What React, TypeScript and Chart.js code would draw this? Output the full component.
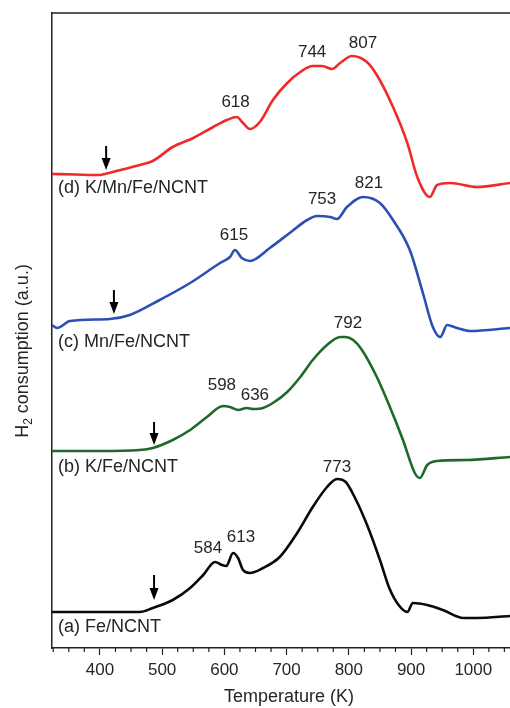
import React, { useEffect, useRef } from "react";
import { Chart, registerables } from "chart.js";

Chart.register(...registerables);

// Temperature (K) and H2 consumption (a.u., offset-stacked) for each sample
const tempD = [323, 360, 400, 408, 440, 464, 485, 517, 550, 582, 604, 620, 630, 641, 657, 678, 701, 722, 742, 757, 773, 786, 805, 829, 845, 871, 894, 910, 930, 942, 963, 1006, 1059];
const valD = [474, 473.5, 473, 474, 479, 483, 487, 501, 510, 521, 528, 531, 525, 519, 526, 548, 565, 576, 582, 582, 579, 585, 592, 586, 573, 541, 505, 471, 451, 463, 465, 461, 465];

const tempC = [323, 331, 352, 416, 448, 496, 545, 593, 609, 617, 628, 641, 673, 705, 733, 749, 770, 781, 797, 823, 850, 871, 898, 919, 935, 947, 958, 974, 995, 1059];
const valC = [323, 320, 327, 329, 333, 348, 365, 385, 391, 398, 390, 387, 400, 415, 428, 432, 431, 429, 441, 451, 445, 428, 398, 355, 321, 311, 323, 320, 317, 320];

const tempB = [323, 400, 464, 485, 517, 545, 572, 598, 609, 622, 636, 646, 662, 678, 701, 722, 742, 765, 786, 794, 807, 820, 845, 866, 887, 906, 914, 926, 942, 990, 1059];
const valB = [197, 197, 198, 200, 208, 218, 231, 242, 241, 238, 240, 239, 240, 245, 256, 271, 288, 303, 311, 311, 308, 299, 271, 241, 208, 175, 170, 183, 187, 188, 191];

const tempA = [323, 400, 464, 485, 517, 545, 566, 585, 596, 603, 614, 622, 630, 641, 662, 689, 717, 742, 765, 781, 795, 810, 830, 850, 865, 880, 894, 903, 926, 951, 984, 1006, 1059];
const valA = [36, 36, 36, 40, 48, 60, 73, 86, 83, 82, 95, 90, 78, 75, 80, 91, 115, 141, 161, 169, 166, 150, 122, 88, 60, 43, 36, 45, 43, 38, 30, 30, 32];

const seriesNames = ["(d) K/Mn/Fe/NCNT", "(c) Mn/Fe/NCNT", "(b) K/Fe/NCNT", "(a) Fe/NCNT"];

// Peak labels: text, temperature position, value position
const peakText = ["618", "744", "807", "615", "753", "821", "598", "636", "792", "584", "613", "773"];
const peakT = [618, 741, 822.8, 615.4, 757, 832.5, 596, 649, 798.7, 573.6, 626.7, 781];
const peakV = [546, 596, 605, 413, 449, 465, 263, 253, 325, 100, 111, 181];

// Sample label anchors
const nameT = [332.6, 332.6, 332.6, 332.6];
const nameV = [460, 306, 181, 21];

// Onset arrows
const arrowT = [410, 422.5, 487, 487];
const arrowTop = [502, 358, 226, 73];
const arrowTip = [478, 334, 203, 48];

const xMin = 323;
const xMax = 1059;
const yMin = 0;
const yMax = 635;

const FONT = '"Liberation Sans", Arial, Helvetica, sans-serif';
const TEXT = "#262626";

function toXY(t: number[], v: number[]) {
  return t.map((x, i) => ({ x, y: v[i] }));
}

export default function App() {
  const ref = useRef<HTMLCanvasElement | null>(null);

  useEffect(() => {
    if (!ref.current) return;

    const annot = {
      id: "annot",
      afterDraw(chart: any) {
        const ctx = chart.ctx as CanvasRenderingContext2D;
        const xs = chart.scales.x;
        const ys = chart.scales.y;
        const area = chart.chartArea;
        ctx.save();
        // top frame line
        ctx.strokeStyle = "#222";
        ctx.lineWidth = 1.5;
        ctx.beginPath();
        ctx.moveTo(area.left, area.top);
        ctx.lineTo(area.right, area.top);
        ctx.stroke();
        // minor ticks
        ctx.lineWidth = 1.2;
        for (let t = 325; t <= xMax; t += 25) {
          if (t % 100 === 0) continue;
          const px = xs.getPixelForValue(t);
          ctx.beginPath();
          ctx.moveTo(px, area.bottom);
          ctx.lineTo(px, area.bottom + 4);
          ctx.stroke();
        }
        // peak labels
        ctx.fillStyle = TEXT;
        ctx.font = `17px ${FONT}`;
        ctx.textAlign = "center";
        ctx.textBaseline = "middle";
        peakText.forEach((s, i) => {
          ctx.fillText(s, xs.getPixelForValue(peakT[i]), ys.getPixelForValue(peakV[i]));
        });
        // sample names
        ctx.font = `18px ${FONT}`;
        ctx.textAlign = "left";
        seriesNames.forEach((s, i) => {
          ctx.fillText(s, xs.getPixelForValue(nameT[i]), ys.getPixelForValue(nameV[i]));
        });
        // arrows
        ctx.fillStyle = "#000";
        ctx.strokeStyle = "#000";
        ctx.lineWidth = 2;
        arrowT.forEach((t, i) => {
          const px = xs.getPixelForValue(t);
          const y0 = ys.getPixelForValue(arrowTop[i]);
          const y1 = ys.getPixelForValue(arrowTip[i]);
          ctx.beginPath();
          ctx.moveTo(px, y0);
          ctx.lineTo(px, y1 - 8);
          ctx.stroke();
          ctx.beginPath();
          ctx.moveTo(px - 4.5, y1 - 12);
          ctx.lineTo(px + 4.5, y1 - 12);
          ctx.lineTo(px, y1);
          ctx.closePath();
          ctx.fill();
        });
        // x title
        ctx.fillStyle = TEXT;
        ctx.font = `18px ${FONT}`;
        ctx.textAlign = "center";
        ctx.textBaseline = "middle";
        ctx.fillText("Temperature (K)", 289, 697);
        // y title with subscript
        ctx.translate(28, 351);
        ctx.rotate(-Math.PI / 2);
        ctx.textBaseline = "alphabetic";
        ctx.textAlign = "left";
        const bigFont = `18px ${FONT}`;
        const smallFont = `12px ${FONT}`;
        ctx.font = bigFont;
        const wH = ctx.measureText("H").width;
        const rest = " consumption (a.u.)";
        const wR = ctx.measureText(rest).width;
        ctx.font = smallFont;
        const w2 = ctx.measureText("2").width;
        const total = wH + w2 + wR;
        let x = -total / 2;
        ctx.font = bigFont;
        ctx.fillText("H", x, 0);
        x += wH;
        ctx.font = smallFont;
        ctx.fillText("2", x, 4);
        x += w2;
        ctx.font = bigFont;
        ctx.fillText(rest, x, 0);
        ctx.restore();
      },
    };

    const mk = (label: string, t: number[], v: number[], color: string) => ({
      label,
      data: toXY(t, v),
      borderColor: color,
      backgroundColor: color,
      borderWidth: 2.6,
      pointRadius: 0,
      fill: false,
      cubicInterpolationMode: "monotone" as const,
    });

    const chart = new Chart(ref.current, {
      type: "line",
      data: {
        datasets: [
          mk(seriesNames[0], tempD, valD, "#f02a2a"),
          mk(seriesNames[1], tempC, valC, "#2a50b4"),
          mk(seriesNames[2], tempB, valB, "#1f6a2a"),
          mk(seriesNames[3], tempA, valA, "#0a0a0a"),
        ],
      },
      options: {
        animation: false,
        responsive: false,
        maintainAspectRatio: false,
        layout: { padding: { top: 13, right: 0, left: 0, bottom: 0 } },
        plugins: {
          legend: { display: false },
          tooltip: { enabled: false },
        },
        scales: {
          x: {
            type: "linear",
            min: xMin,
            max: xMax,
            ticks: {
              stepSize: 100,
              includeBounds: false,
              color: TEXT,
              font: { family: FONT, size: 17 },
              padding: 5,
              maxRotation: 0,
              callback: (v: any) => String(v),
            },
            grid: {
              display: true,
              drawOnChartArea: false,
              drawTicks: true,
              tickLength: 7,
              tickWidth: 1.2,
              tickColor: "#222",
            },
            border: { display: true, color: "#222", width: 1.5 },
            afterFit(scale: any) {
              scale.height = 60;
            },
          },
          y: {
            type: "linear",
            min: yMin,
            max: yMax,
            ticks: { display: false },
            grid: { display: false, drawTicks: false },
            border: { display: true, color: "#222", width: 1.5 },
            afterFit(scale: any) {
              scale.width = 52;
            },
          },
        },
      },
      plugins: [annot],
    });

    return () => chart.destroy();
  }, []);

  return (
    <div style={{ position: "fixed", left: 0, top: 0, width: 510, height: 708, background: "#fff" }}>
      <canvas ref={ref} width={510} height={708} style={{ display: "block" }} />
    </div>
  );
}
